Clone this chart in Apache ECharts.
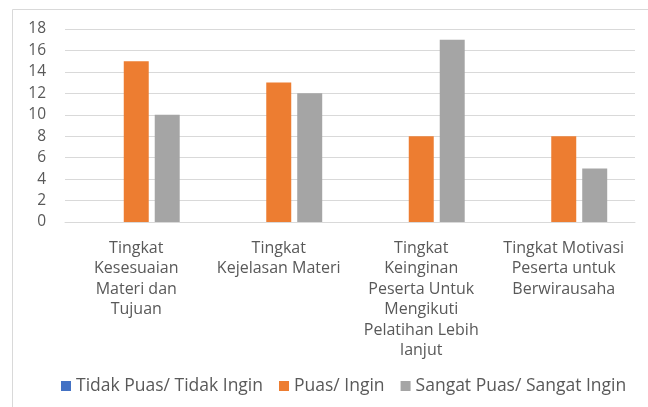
<!DOCTYPE html>
<html>
<head>
<meta charset="utf-8">
<script src="https://cdn.jsdelivr.net/npm/echarts@6/dist/echarts.min.js"></script>
<style>
  html, body { margin: 0; padding: 0; background: #fff; }
  #main { width: 648px; height: 407px; }
</style>
</head>
<body>
<div id="main"></div>
<script>
// data
var categories = [
    'Tingkat\nKesesuaian\nMateri dan\nTujuan',
    'Tingkat\nKejelasan Materi',
    'Tingkat\nKeinginan\nPeserta Untuk\nMengikuti\nPelatihan Lebih\nlanjut',
    'Tingkat Motivasi\nPeserta untuk\nBerwirausaha'
];
var seriesNames = ['Tidak Puas/ Tidak Ingin', 'Puas/ Ingin', 'Sangat Puas/ Sangat Ingin'];
var tidakPuas = [0, 0, 0, 0];
var puas = [15, 13, 8, 8];
var sangatPuas = [10, 12, 17, 5];
var yTicks = { min: 0, max: 18, interval: 2 };

var colors = ['#4472c4', '#ed7d31', '#a5a5a5'];
var font = '"Open Sans", Lato, sans-serif';

var myChart = echarts.init(document.getElementById('main'));

var option = {
    backgroundColor: '#ffffff',
    color: colors,
    textStyle: { fontFamily: font },
    // chart frame
    graphic: [{
        type: 'rect',
        shape: { x: 12.5, y: 9.5, width: 700, height: 420 },
        style: { fill: 'none', stroke: '#d9d9d9', lineWidth: 1 },
        silent: true
    }],
    grid: {
        left: 65,
        right: 13,
        top: 29,
        bottom: 185
    },
    legend: {
        data: seriesNames,
        left: 56,
        top: 372,
        itemWidth: 10,
        itemHeight: 10,
        itemGap: 16,
        icon: 'rect',
        textStyle: { color: '#595959', fontSize: 17.5, fontFamily: font }
    },
    xAxis: {
        type: 'category',
        data: categories,
        axisTick: { show: false },
        axisLine: { lineStyle: { color: '#d9d9d9', width: 1 } },
        axisLabel: {
            color: '#595959',
            fontSize: 16,
            lineHeight: 20.5,
            margin: 16,
            interval: 0,
            fontFamily: font
        }
    },
    yAxis: {
        type: 'value',
        min: yTicks.min,
        max: yTicks.max,
        interval: yTicks.interval,
        axisLine: { show: false },
        axisTick: { show: false },
        splitLine: { lineStyle: { color: '#d9d9d9', width: 1 } },
        axisLabel: {
            color: '#595959',
            fontSize: 15.5,
            margin: 19,
            fontFamily: font
        }
    },
    series: [
        {
            name: seriesNames[0],
            type: 'bar',
            data: tidakPuas,
            barGap: '24%',
            barCategoryGap: '39%'
        },
        {
            name: seriesNames[1],
            type: 'bar',
            data: puas,
            barGap: '24%',
            barCategoryGap: '39%'
        },
        {
            name: seriesNames[2],
            type: 'bar',
            data: sangatPuas,
            barGap: '24%',
            barCategoryGap: '39%'
        }
    ]
};

myChart.setOption(option);
</script>
</body>
</html>
